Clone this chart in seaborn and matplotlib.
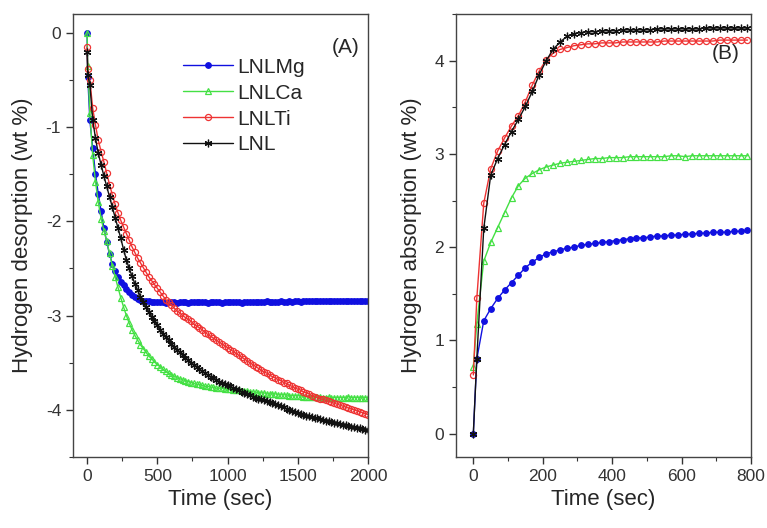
import matplotlib
matplotlib.use("Agg")
import seaborn as sns
from matplotlib import pyplot as plt
from matplotlib.ticker import MultipleLocator

# (A) desorption, time grid in sec
t_des = [0, 5] + list(range(20, 2001, 20))

mg_des = [0.0, -0.47,
          -0.93, -1.22, -1.50, -1.71, -1.89, -2.07, -2.22, -2.35, -2.45, -2.53,
          -2.59, -2.64, -2.68, -2.72, -2.75, -2.78, -2.80, -2.82, -2.83, -2.84,
          -2.85, -2.85, -2.86, -2.86, -2.86, -2.86, -2.86, -2.87, -2.86, -2.86,
          -2.86, -2.87, -2.86, -2.86, -2.86, -2.87, -2.86, -2.86, -2.86, -2.86,
          -2.86, -2.86, -2.87, -2.86, -2.86, -2.86, -2.86, -2.87, -2.86, -2.86,
          -2.86, -2.86, -2.86, -2.86, -2.87, -2.86, -2.86, -2.86, -2.86, -2.86,
          -2.86, -2.86, -2.86, -2.85, -2.86, -2.86, -2.86, -2.86, -2.85, -2.86,
          -2.86, -2.85, -2.86, -2.85, -2.85, -2.86, -2.85, -2.85, -2.85, -2.85,
          -2.85, -2.85, -2.85, -2.85, -2.84, -2.85, -2.85, -2.85, -2.84, -2.85,
          -2.85, -2.84, -2.85, -2.84, -2.84, -2.85, -2.84, -2.84, -2.84, -2.84]

ca_des = [0.0, -0.35,
          -0.85, -1.30, -1.58, -1.80, -1.97, -2.10, -2.21, -2.34, -2.47, -2.59,
          -2.70, -2.81, -2.91, -3.00, -3.08, -3.15, -3.21, -3.26, -3.31, -3.35,
          -3.39, -3.43, -3.46, -3.49, -3.52, -3.54, -3.57, -3.59, -3.61, -3.63,
          -3.64, -3.66, -3.67, -3.68, -3.69, -3.70, -3.71, -3.72, -3.73, -3.73,
          -3.74, -3.75, -3.75, -3.76, -3.76, -3.77, -3.77, -3.77, -3.78, -3.78,
          -3.78, -3.79, -3.79, -3.79, -3.80, -3.80, -3.80, -3.81, -3.81, -3.81,
          -3.82, -3.82, -3.82, -3.83, -3.83, -3.83, -3.83, -3.84, -3.84, -3.84,
          -3.84, -3.85, -3.85, -3.85, -3.85, -3.85, -3.86, -3.86, -3.86, -3.86,
          -3.86, -3.86, -3.86, -3.87, -3.87, -3.86, -3.87, -3.87, -3.87, -3.87,
          -3.87, -3.87, -3.86, -3.87, -3.87, -3.87, -3.87, -3.87, -3.87, -3.87]

ti_des = [-0.15, -0.38,
          -0.50, -0.80, -0.98, -1.14, -1.26, -1.37, -1.49, -1.61, -1.72, -1.82,
          -1.91, -1.99, -2.06, -2.13, -2.20, -2.27, -2.33, -2.39, -2.44, -2.49,
          -2.54, -2.59, -2.63, -2.67, -2.71, -2.75, -2.79, -2.83, -2.86, -2.89,
          -2.92, -2.95, -2.97, -3.00, -3.02, -3.04, -3.06, -3.09, -3.11, -3.13,
          -3.15, -3.18, -3.20, -3.22, -3.24, -3.26, -3.28, -3.30, -3.32, -3.34,
          -3.36, -3.38, -3.40, -3.42, -3.44, -3.46, -3.48, -3.50, -3.52, -3.54,
          -3.56, -3.58, -3.60, -3.61, -3.63, -3.65, -3.66, -3.68, -3.69, -3.71,
          -3.72, -3.74, -3.75, -3.77, -3.78, -3.79, -3.81, -3.82, -3.83, -3.85,
          -3.86, -3.87, -3.88, -3.89, -3.90, -3.91, -3.92, -3.93, -3.94, -3.95,
          -3.96, -3.97, -3.98, -3.99, -4.00, -4.01, -4.02, -4.03, -4.04, -4.05]

lnl_des = [-0.20, -0.45,
           -0.55, -0.92, -1.12, -1.28, -1.40, -1.52, -1.63, -1.74, -1.85, -1.96,
           -2.07, -2.18, -2.30, -2.41, -2.50, -2.58, -2.66, -2.73, -2.80, -2.86,
           -2.91, -2.96, -3.01, -3.06, -3.10, -3.15, -3.19, -3.23, -3.26, -3.30,
           -3.33, -3.36, -3.39, -3.42, -3.45, -3.47, -3.50, -3.52, -3.54, -3.57,
           -3.59, -3.61, -3.63, -3.65, -3.66, -3.68, -3.70, -3.71, -3.73, -3.74,
           -3.75, -3.77, -3.78, -3.79, -3.81, -3.82, -3.83, -3.84, -3.86, -3.87,
           -3.88, -3.89, -3.90, -3.91, -3.92, -3.93, -3.94, -3.95, -3.96, -3.97,
           -3.99, -4.00, -4.01, -4.02, -4.03, -4.04, -4.05, -4.06, -4.07, -4.08,
           -4.09, -4.09, -4.10, -4.11, -4.12, -4.12, -4.13, -4.14, -4.14, -4.15,
           -4.16, -4.16, -4.17, -4.18, -4.18, -4.19, -4.19, -4.20, -4.21, -4.21]

# (B) absorption
t_abs = [0] + list(range(10, 801, 20))

mg_abs = [0.0,
          0.80, 1.21, 1.34, 1.45, 1.54, 1.62, 1.70, 1.78, 1.84, 1.89,
          1.93, 1.95, 1.97, 1.99, 2.00, 2.02, 2.03, 2.04, 2.05, 2.06,
          2.07, 2.08, 2.09, 2.10, 2.10, 2.11, 2.12, 2.12, 2.13, 2.13,
          2.14, 2.14, 2.15, 2.15, 2.16, 2.16, 2.16, 2.17, 2.17, 2.18]

ca_abs = [0.72,
          1.18, 1.85, 2.05, 2.21, 2.37, 2.53, 2.66, 2.74, 2.79, 2.83,
          2.86, 2.88, 2.90, 2.91, 2.92, 2.93, 2.94, 2.95, 2.95, 2.96,
          2.96, 2.96, 2.97, 2.97, 2.97, 2.97, 2.97, 2.97, 2.98, 2.98,
          2.97, 2.98, 2.98, 2.98, 2.98, 2.98, 2.98, 2.98, 2.98, 2.98]

ti_abs = [0.63,
          1.45, 2.47, 2.84, 3.03, 3.17, 3.30, 3.41, 3.56, 3.74, 3.89,
          4.01, 4.08, 4.12, 4.14, 4.16, 4.17, 4.18, 4.18, 4.19, 4.19,
          4.19, 4.20, 4.20, 4.20, 4.20, 4.20, 4.20, 4.21, 4.21, 4.21,
          4.21, 4.21, 4.21, 4.21, 4.21, 4.22, 4.22, 4.22, 4.22, 4.22]

lnl_abs = [0.0,
           0.80, 2.20, 2.77, 2.95, 3.10, 3.24, 3.37, 3.51, 3.67, 3.85,
           4.00, 4.12, 4.20, 4.26, 4.29, 4.30, 4.31, 4.31, 4.32, 4.32,
           4.32, 4.33, 4.33, 4.33, 4.33, 4.33, 4.34, 4.34, 4.34, 4.34,
           4.34, 4.34, 4.34, 4.35, 4.35, 4.35, 4.35, 4.35, 4.35, 4.35]

labels = ["LNLMg", "LNLCa", "LNLTi", "LNL"]
colors = ["#1010e0", "#44e044", "#ee3333", "#111111"]

sns.set_style("ticks")
plt.rcParams['font.family'] = ['Liberation Sans', 'DejaVu Sans']
plt.rcParams['axes.unicode_minus'] = False

fig = plt.figure(figsize=(7.67, 5.28), dpi=100)
ax1 = fig.add_axes([0.0952, 0.1345, 0.3846, 0.839])
ax2 = fig.add_axes([0.5945, 0.1345, 0.3846, 0.839])


def draw(ax, t, series):
    styles = [
        dict(marker="o", markersize=4.0, markerfacecolor=colors[0]),
        dict(marker="^", markersize=4.4, markerfacecolor="none"),
        dict(marker="o", markersize=4.4, markerfacecolor="none"),
        dict(marker=(6, 2, 0), markersize=5.5),
    ]
    for y, lab, c, st in zip(series, labels, colors, styles):
        sns.lineplot(x=t, y=y, ax=ax, color=c, label=lab, linewidth=1.0,
                     markeredgecolor=c, markeredgewidth=0.9, **st)


draw(ax1, t_des, [mg_des, ca_des, ti_des, lnl_des])
draw(ax2, t_abs, [mg_abs, ca_abs, ti_abs, lnl_abs])

ax1.set_xlim(-100, 2000)
ax1.set_ylim(-4.5, 0.2)
ax1.xaxis.set_major_locator(MultipleLocator(500))
ax1.xaxis.set_minor_locator(MultipleLocator(250))
ax1.yaxis.set_major_locator(MultipleLocator(1))
ax1.yaxis.set_minor_locator(MultipleLocator(0.5))
ax1.set_ylabel("Hydrogen desorption (wt %)", fontsize=16, labelpad=9)
ax1.set_xlabel("Time (sec)", fontsize=16, labelpad=4)
ax1.legend(loc="upper left", bbox_to_anchor=(0.343, 0.92), frameon=False,
           fontsize=15, handlelength=2.4, handletextpad=0.25,
           labelspacing=0.33, borderaxespad=0)
ax1.text(0.925, 0.925, "(A)", transform=ax1.transAxes, fontsize=15,
         ha="center", va="center")

ax2.set_xlim(-50, 800)
ax2.set_ylim(-0.25, 4.5)
ax2.xaxis.set_major_locator(MultipleLocator(200))
ax2.xaxis.set_minor_locator(MultipleLocator(100))
ax2.yaxis.set_major_locator(MultipleLocator(1))
ax2.yaxis.set_minor_locator(MultipleLocator(0.5))
ax2.set_ylabel("Hydrogen absorption (wt %)", fontsize=16, labelpad=9)
ax2.set_xlabel("Time (sec)", fontsize=16, labelpad=4)
ax2.get_legend().remove()
ax2.text(0.915, 0.91, "(B)", transform=ax2.transAxes, fontsize=15,
         ha="center", va="center")

for ax in (ax1, ax2):
    ax.tick_params(which="major", direction="out", length=5, width=1,
                   labelsize=12.5, colors="#333333")
    ax.tick_params(which="minor", direction="out", length=3, width=0.8,
                   colors="#333333")
    for s in ax.spines.values():
        s.set_color("#444444")
        s.set_linewidth(1.0)

fig.savefig("out.png", dpi=100)
